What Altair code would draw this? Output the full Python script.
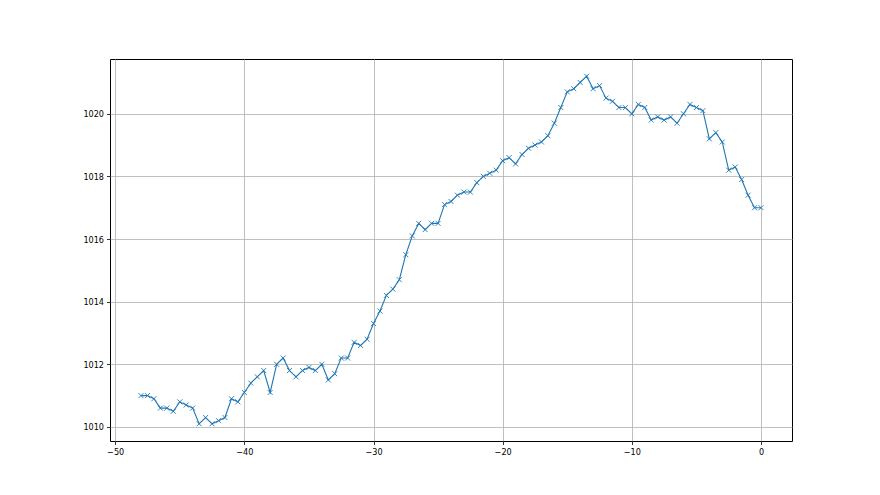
import altair as alt
import pandas as pd

hours = [-48, -47.5, -47, -46.5, -46, -45.5, -45, -44.5, -44, -43.5, -43, -42.5,
         -42, -41.5, -41, -40.5, -40, -39.5, -39, -38.5, -38, -37.5, -37, -36.5,
         -36, -35.5, -35, -34.5, -34, -33.5, -33, -32.5, -32, -31.5, -31, -30.5,
         -30, -29.5, -29, -28.5, -28, -27.5, -27, -26.5, -26, -25.5, -25, -24.5,
         -24, -23.5, -23, -22.5, -22, -21.5, -21, -20.5, -20, -19.5, -19, -18.5,
         -18, -17.5, -17, -16.5, -16, -15.5, -15, -14.5, -14, -13.5, -13, -12.5,
         -12, -11.5, -11, -10.5, -10, -9.5, -9, -8.5, -8, -7.5, -7, -6.5,
         -6, -5.5, -5, -4.5, -4, -3.5, -3, -2.5, -2, -1.5, -1, -0.5, 0]

pressure = [1011.0, 1011.0, 1010.9, 1010.6, 1010.6, 1010.5, 1010.8, 1010.7, 1010.6, 1010.1, 1010.3, 1010.1,
            1010.2, 1010.3, 1010.9, 1010.8, 1011.1, 1011.4, 1011.6, 1011.8, 1011.1, 1012.0, 1012.2, 1011.8,
            1011.6, 1011.8, 1011.9, 1011.8, 1012.0, 1011.5, 1011.7, 1012.2, 1012.2, 1012.7, 1012.6, 1012.8,
            1013.3, 1013.7, 1014.2, 1014.4, 1014.7, 1015.5, 1016.1, 1016.5, 1016.3, 1016.5, 1016.5, 1017.1,
            1017.2, 1017.4, 1017.5, 1017.5, 1017.8, 1018.0, 1018.1, 1018.2, 1018.5, 1018.6, 1018.4, 1018.7,
            1018.9, 1019.0, 1019.1, 1019.3, 1019.7, 1020.2, 1020.7, 1020.8, 1021.0, 1021.2, 1020.8, 1020.9,
            1020.5, 1020.4, 1020.2, 1020.2, 1020.0, 1020.3, 1020.2, 1019.8, 1019.9, 1019.8, 1019.9, 1019.7,
            1020.0, 1020.3, 1020.2, 1020.1, 1019.2, 1019.4, 1019.1, 1018.2, 1018.3, 1017.9, 1017.4, 1017.0, 1017.0]

x_ticks = [-50, -40, -30, -20, -10, 0]
y_ticks = [1010, 1012, 1014, 1016, 1018, 1020]

df = pd.DataFrame({"hour": hours, "pressure": pressure})

color = "#1f77b4"
x_enc = alt.X("hour:Q", scale=alt.Scale(domain=[-50.4, 2.4], nice=False, zero=False),
              axis=alt.Axis(values=x_ticks, title=None, format="d"))
y_enc = alt.Y("pressure:Q", scale=alt.Scale(domain=[1009.55, 1021.75], nice=False, zero=False),
              axis=alt.Axis(values=y_ticks, title=None, format="d"))

line = alt.Chart(df).mark_line(color=color, strokeWidth=1.1).encode(x=x_enc, y=y_enc)
pts = alt.Chart(df).mark_point(
    shape="M-1,-1L1,1M-1,1L1,-1", size=25, filled=False, color=color, strokeWidth=0.9, opacity=1
).encode(x=x_enc, y=y_enc)

chart = (line + pts).properties(
    width=682, height=382,
    autosize=alt.AutoSizeParams(type="none"),
    padding={"left": 102, "top": 51, "right": 80, "bottom": 46},
    background="white",
).configure_view(
    stroke="black", strokeWidth=1
).configure_axis(
    domain=False,
    grid=True, gridColor="#b0b0b0", gridWidth=0.8,
    tickColor="black", tickSize=3.5, tickWidth=0.8,
    labelFont="DejaVu Sans Condensed, DejaVu Sans", labelFontSize=9, labelColor="black", labelPadding=3,
)

chart.save("out.html", embed_options={"renderer": "svg", "actions": False})
